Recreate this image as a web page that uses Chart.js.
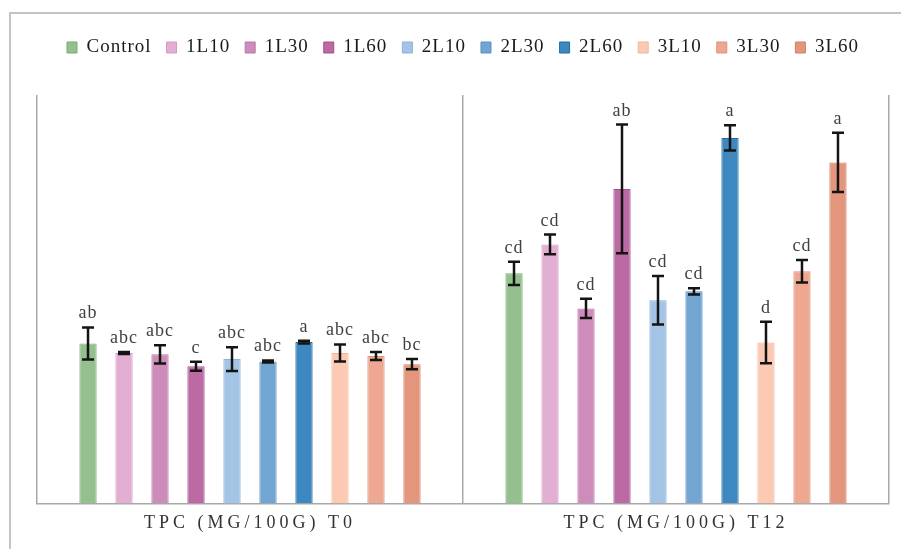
<!DOCTYPE html>
<html>
<head>
<meta charset="utf-8">
<script src="https://cdn.jsdelivr.net/npm/chart.js@4.4.1/dist/chart.umd.min.js"></script>
<style>
  html, body { margin: 0; padding: 0; background: #ffffff; }
  canvas { display: block; }
</style>
</head>
<body>
<canvas id="chart" width="901" height="549"></canvas>
<script>
// Sampling times (x categories)
const categories = ['TPC (MG/100G) T0', 'TPC (MG/100G) T12'];

// Treatments (one bar series each)
const treatments = ['Control', '1L10', '1L30', '1L60', '2L10', '2L30', '2L60', '3L10', '3L30', '3L60'];

// Mean total phenolic content per treatment
const meanT0  = [47.0, 44.2, 43.8, 40.3, 42.4, 41.7, 47.4, 44.2, 43.3, 40.9];
const meanT12 = [67.6, 76.1, 57.3, 92.4, 59.7, 62.3, 107.4, 47.3, 68.2, 100.2];

// Standard deviations
const sdT0  = [4.7, 0.3, 2.7, 1.3, 3.5, 0.3, 0.4, 2.5, 1.2, 1.5];
const sdT12 = [3.4, 2.9, 2.8, 18.9, 7.1, 0.9, 3.7, 6.1, 3.3, 8.7];

// Significance letters
const lettersT0  = ['ab', 'abc', 'abc', 'c', 'abc', 'abc', 'a', 'abc', 'abc', 'bc'];
const lettersT12 = ['cd', 'cd', 'cd', 'ab', 'cd', 'cd', 'a', 'd', 'cd', 'a'];

// Series colours
const fills   = ['#93c08c', '#e2afd3', '#cd8cba', '#bb6aa3', '#a4c4e6', '#72a6d2', '#3d88c0', '#fccab3', '#eea891', '#e3967b'];
const borders = ['#7daa76', '#d39bc5', '#b877a6', '#a0528a', '#8db1d9', '#5c90bf', '#1f6a9f', '#efb59b', '#db927b', '#cd8065'];

const datasets = treatments.map((name, i) => ({
  label: name,
  data: [meanT0[i], meanT12[i]],
  errors: [sdT0[i], sdT12[i]],
  letters: [lettersT0[i], lettersT12[i]],
  backgroundColor: fills[i],
  borderColor: borders[i],
  borderWidth: 1,
  barPercentage: 0.48,
  categoryPercentage: 0.845
}));

// Outer frame, error bars and significance letters
const decorations = {
  id: 'decorations',
  beforeLayout(chart) {
    chart.ctx.letterSpacing = '1px';
  },
  beforeDraw(chart) {
    const ctx = chart.ctx;
    ctx.save();
    ctx.strokeStyle = '#c4c4c4';
    ctx.lineWidth = 2;
    ctx.beginPath();
    ctx.moveTo(10, chart.height + 5);
    ctx.lineTo(10, 13);
    ctx.lineTo(chart.width + 5, 13);
    ctx.stroke();
    ctx.restore();
    ctx.letterSpacing = '1px';
  },
  afterDatasetsDraw(chart) {
    const ctx = chart.ctx;
    const yScale = chart.scales.y;
    ctx.save();
    chart.data.datasets.forEach((ds, i) => {
      const meta = chart.getDatasetMeta(i);
      meta.data.forEach((bar, j) => {
        const v = ds.data[j];
        const e = ds.errors[j];
        const yTop = yScale.getPixelForValue(v + e);
        const yBot = yScale.getPixelForValue(v - e);
        const x = bar.x;
        ctx.strokeStyle = '#141414';
        ctx.lineWidth = 2.5;
        ctx.lineCap = 'butt';
        ctx.beginPath();
        ctx.moveTo(x, yTop);
        ctx.lineTo(x, yBot);
        ctx.moveTo(x - 6, yTop);
        ctx.lineTo(x + 6, yTop);
        ctx.moveTo(x - 6, yBot);
        ctx.lineTo(x + 6, yBot);
        ctx.stroke();

        ctx.letterSpacing = '1px';
        ctx.font = '18px "Liberation Serif", "Times New Roman", serif';
        ctx.fillStyle = '#404040';
        ctx.textAlign = 'center';
        ctx.textBaseline = 'alphabetic';
        ctx.fillText(ds.letters[j], x, yTop - 9);
      });
    });
    ctx.restore();
    // wide tracking for the category labels drawn next
    ctx.letterSpacing = '4px';
  }
};

new Chart(document.getElementById('chart'), {
  type: 'bar',
  data: { labels: categories, datasets: datasets },
  plugins: [decorations],
  options: {
    responsive: false,
    animation: false,
    devicePixelRatio: 1,
    layout: { padding: { left: 37, right: 12, top: 23, bottom: 6 } },
    plugins: {
      tooltip: { enabled: false },
      legend: {
        position: 'top',
        weight: 1000,
        labels: {
          boxWidth: 10,
          boxHeight: 11,
          padding: 15,
          color: '#1a1a1a',
          font: { family: '"Liberation Serif", "Times New Roman", serif', size: 19 }
        }
      },
      title: {
        display: true,
        text: '',
        position: 'top',
        weight: 100,
        padding: { top: 0, bottom: 18 },
        font: { size: 10, lineHeight: 1 }
      }
    },
    scales: {
      x: {
        grid: { display: true, offset: true, color: '#a8a8a8', lineWidth: 1.5, drawTicks: false },
        border: { display: true, color: '#a8a8a8', width: 1.5 },
        ticks: {
          z: 1,
          padding: 9,
          maxRotation: 0,
          color: '#333333',
          font: { family: '"Liberation Serif", "Times New Roman", serif', size: 18 }
        }
      },
      y: {
        display: false,
        min: 0,
        max: 120
      }
    }
  }
});
</script>
</body>
</html>
